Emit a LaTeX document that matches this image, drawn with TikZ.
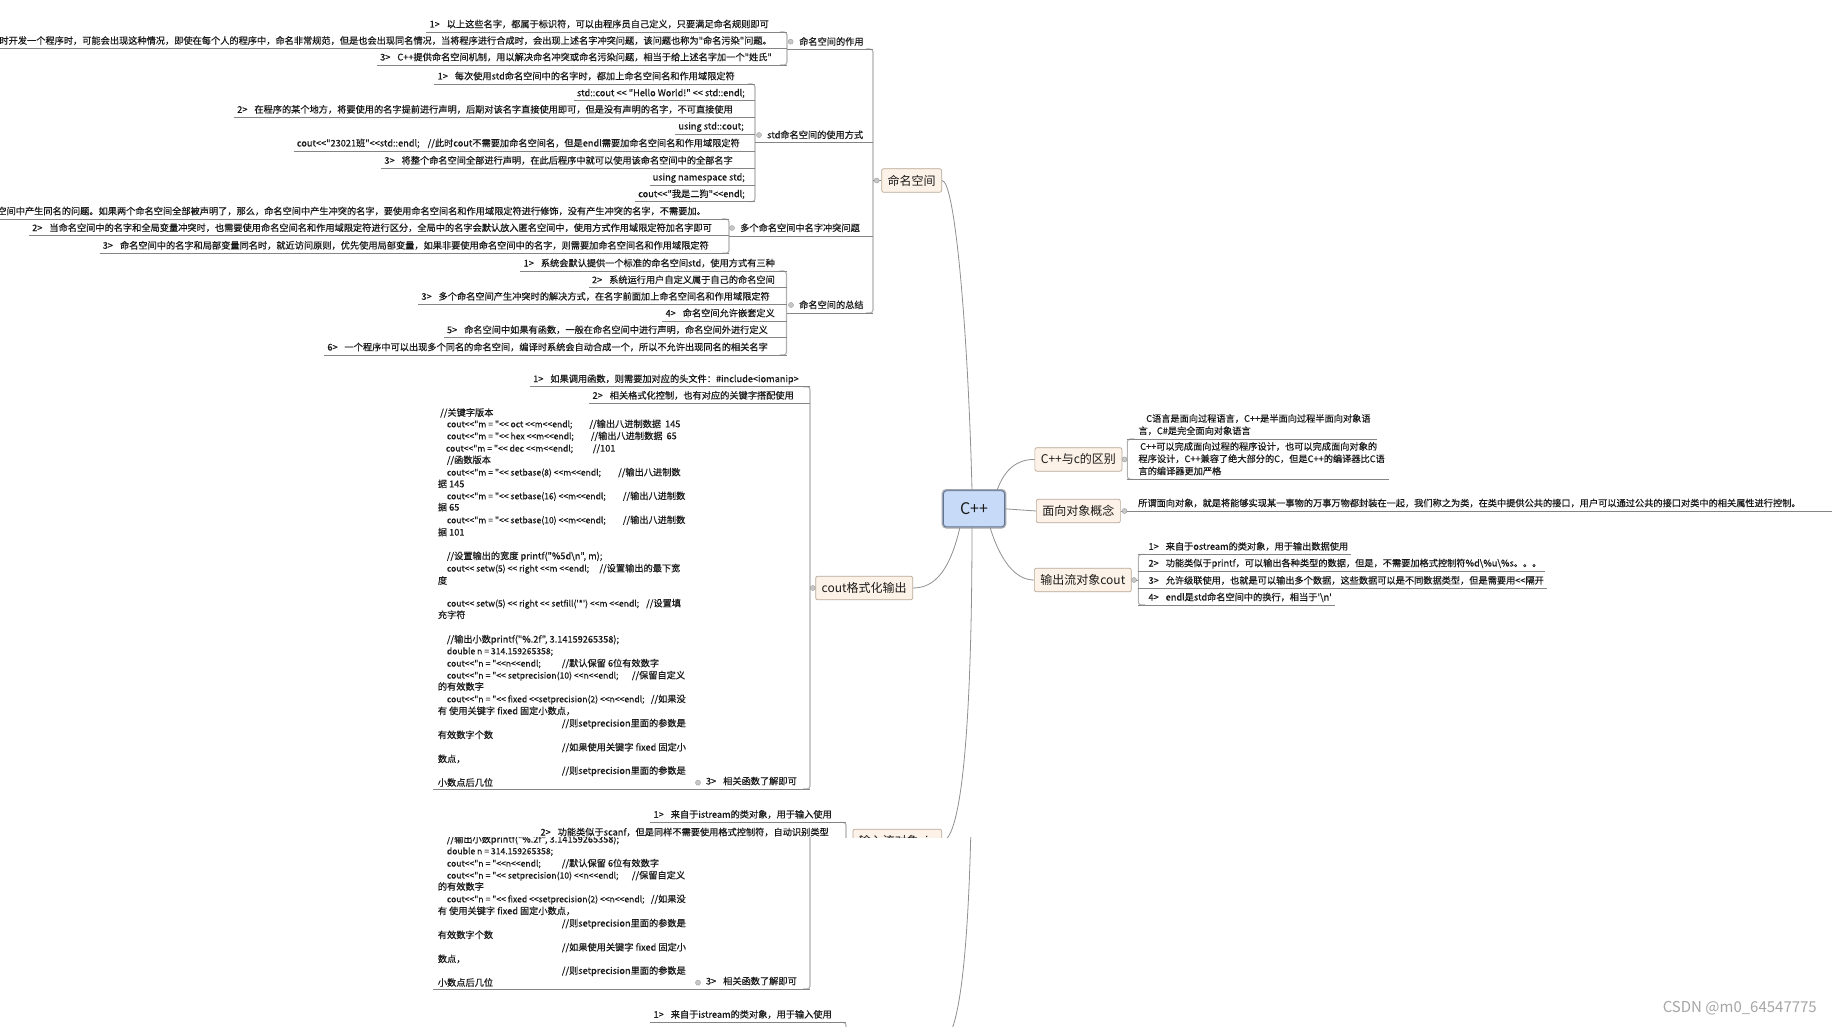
\documentclass[tikz,border=0pt]{standalone}
\usepackage{fontspec}
\newfontfamily\zh{Noto Sans CJK SC}
\newfontfamily\zhs{Noto Sans CJK SC}[FakeBold=0.5]
\usetikzlibrary{calc}
\definecolor{ulc}{HTML}{858585}
\definecolor{vlc}{HTML}{B0B0B0}
\definecolor{cvc}{HTML}{909090}
\definecolor{boxfill}{HTML}{FDF2E7}
\definecolor{boxdraw}{HTML}{B8A898}
\definecolor{cppfill}{HTML}{C7DBF8}
\definecolor{cppdraw}{HTML}{5E7497}
\definecolor{cppring}{HTML}{A3A7AD}
\definecolor{txtc}{HTML}{1A1A1A}
\definecolor{knobf}{HTML}{C8C8C8}
\definecolor{knobd}{HTML}{9A9A9A}
\definecolor{wmc}{HTML}{A6A6A6}
\newcommand\sepx{\hspace{7pt}}
\tikzset{
  txt/.style={font=\zhs\fontsize{9.2}{12.3}\selectfont, text=txtc, inner xsep=3pt, inner ysep=0pt},
  codeline/.style={font=\zhs\fontsize{9.2}{12.3}\selectfont, text=txtc, inner sep=0pt, anchor=base west},
  codelat/.style={codeline, font=\zhs\fontsize{8.6}{12.3}\selectfont},
  uline/.style={draw=ulc, line width=0.7pt},
  vline/.style={draw=vlc, line width=1.1pt, rounded corners=3pt},
  maincurve/.style={draw=cvc, line width=0.8pt},
  topic/.style={draw=boxdraw, fill=boxfill, rounded corners=2pt, line width=0.7pt,
    font=\zh\fontsize{12}{14}\selectfont, text=txtc, inner xsep=6pt, inner ysep=0pt, minimum height=23.5pt},
  cppbox/.style={fill=cppfill, draw=cppdraw, line width=0.8pt, rounded corners=3pt,
    preaction={draw=cppring, line width=3.6pt}, minimum width=61pt, minimum height=36pt, inner sep=0pt,
    font=\zh\fontsize{16}{18}\selectfont, text=txtc},
  knob/.style={circle, fill=knobf, draw=knobd, line width=0.4pt, inner sep=0pt, minimum size=5pt},
}
% left child row: [pad] name, vline x, underline y, text
\newcommand\Lrow[5][12]{%
  \node[txt, anchor=base east] (#2) at ({#3-#1+3},{#4-4.5}) {#5};
  \coordinate (#2u) at (#3,#4);
  \draw[uline] (#2.west |- #2u) -- (#2u);
}
% right child row: name, vline x, underline y, text
\newcommand\Rrow[4]{%
  \node[txt, anchor=base west] (#1) at ({#2+7},{#3-4.5}) {#4\hspace{9pt}};
  \coordinate (#1u) at (#2,#3);
  \draw[uline] (#1u) -- (#1.east |- #1u);
}
\newcommand\K[4]{\node[codeline] (#1) at (#2,{#3+3.3}) {#4};}
\newcommand\KL[4]{\node[codelat] (#1) at (#2,{#3+3.3}) {#4};}
\newcommand\Lab[5]{%
  \node[txt, anchor=base west] (#1) at ({#2-3},{#3+3.3}) {#4};
  \node[knob] (#1d) at (#5,#3) {};
}
\newcommand\LV[3]{\draw[vline] ({#1-7},#2) -- (#1,#2) -- (#1,#3) -- ({#1-7},#3);}
\newcommand\RV[3]{\draw[vline] ({#1+7},#2) -- (#1,#2) -- (#1,#3) -- ({#1+7},#3);}

% ---- parts shared by the normal view and the repeated (glitched) strip
\newcommand\sharedpart{%
\node[cppbox] (cpp) at (974,508.8) {C++};
\node[topic, anchor=east] (ci) at (942,841) {输入流对象cin};
\draw[maincurve] ([xshift=-2pt]cpp.south) .. controls (972,720) and (962,841) .. (ci.east);
% cout format: vline and last child
\LV{810}{386.7}{789}
\Lrow[13]{e3}{810}{789}{3>\sepx 相关函数了解即可}
\coordinate (kb) at (433,789);
\draw[uline] (kb) -- (e3.west |- kb);
\node[knob] (e3k) at (698,782.7) {};
\K{k17}{446.7}{639.3}{//输出小数printf("\%.2f", 3.14159265358);}
\KL{k18}{446.7}{651}{double n = 314.159265358;}
\KL{k19}{446.7}{663.3}{cout<<"n = "<<n<<endl;}
\K{k19c}{561.7}{663.3}{//默认保留 6位有效数字}
\KL{k20}{446.7}{675.3}{cout<<"n = "<< setprecision(10) <<n<<endl;}
\K{k20c}{631.7}{675.3}{//保留自定义}
\K{k21}{437.7}{686.7}{的有效数字}
\KL{k22}{446.7}{699}{cout<<"n = "<< fixed <<setprecision(2) <<n<<endl;}
\K{k22c}{650.7}{699}{//如果没}
\K{k23}{437.7}{711}{有 使用关键字 fixed 固定小数点，}
\K{k24}{561.7}{723.3}{//则setprecision里面的参数是}
\K{k25}{437.7}{735}{有效数字个数}
\K{k26}{561.7}{747.3}{//如果使用关键字 fixed 固定小}
\K{k27}{437.7}{759}{数点，}
\K{k28}{561.7}{770.7}{//则setprecision里面的参数是}
\K{k29}{437.7}{782.7}{小数点后几位}
% cin branch
\coordinate (civ) at (846,841);
\LV{846}{822.3}{900}
\draw[uline] (ci.west) -- (civ);
\node[knob] (cik) at (850,841) {};
\Lrow[14]{i1}{846}{822.3}{1>\sepx 来自于istream的类对象，用于输入使用}
\Lrow[17]{i2}{846}{840}{2>\sepx 功能类似于scanf，但是同样不需要使用格式控制符，自动识别类型}
}

\newcommand\mainpart{%
\node[topic, anchor=east] (ns) at (942,180.5) {命名空间};
\node[topic, anchor=east] (cf) at (913,588) {cout格式化输出};
\node[topic, anchor=west] (cc) at (1034.5,459.4) {C++与c的区别};
\node[topic, anchor=west] (oo) at (1036,511) {面向对象概念};
\node[topic, anchor=west] (oc) at (1034,580) {输出流对象cout};
\draw[maincurve] (ns.east) .. controls (955,180.5) and (968,330) .. ([xshift=-2pt]cpp.north);
\draw[maincurve] ([xshift=-14pt]cpp.south) .. controls (950,570) and (935,588) .. (cf.east);
\draw[maincurve] ([xshift=23pt]cpp.north) .. controls (1005,468) and (1018,459.4) .. (cc.west);
\draw[maincurve] (cpp.east) -- (oo.west);
\draw[maincurve] ([xshift=16pt]cpp.south) .. controls (1000,560) and (1015,580) .. (oc.west);
% ---------- namespace branch
\coordinate (nsv) at (873,180.5);
\LV{873}{49}{313}
\draw[uline] (ns.west) -- (nsv);
\node[knob] (nsk) at (876.7,180.5) {};
% group A
\LV{787}{32}{65}
\Lrow[18]{a1}{787}{32}{1>\sepx 以上这些名字，都属于标识符，可以由程序员自己定义，只要满足命名规则即可}
\Lrow[15]{a2}{787}{48.5}{2>\sepx 当多个程序员同时开发一个程序时，可能会出现这种情况，即使在每个人的程序中，命名非常规范，但是也会出现同名情况，当将程序进行合成时，会出现上述名字冲突问题，该问题也称为"命名污染"问题。}
\Lrow[15]{a3}{787}{65}{3>\sepx C++提供命名空间机制，用以解决命名冲突或命名污染问题，相当于给上述名字加一个"姓氏"}
\coordinate (lal) at (787,49); \coordinate (lar) at (873,49);
\draw[uline] (lal) -- (lar);
\Lab{la}{799}{41.7}{命名空间的作用}{790.7}
% group B
\LV{755}{84}{201.7}
\Lrow[20]{b1}{755}{84}{1>\sepx 每次使用std命名空间中的名字时，都加上命名空间名和作用域限定符}
\Lrow[10]{b2}{755}{100.7}{std::cout << "Hello World!" << std::endl;}
\Lrow[22]{b3}{755}{117.3}{2>\sepx 在程序的某个地方，将要使用的名字提前进行声明，后期对该名字直接使用即可，但是没有声明的名字，不可直接使用}
\Lrow[11]{b4}{755}{134}{using std::cout;}
\Lrow[15]{b5}{755}{151}{cout<<"23021班"<<std::endl;\hspace{8pt}//此时cout不需要加命名空间名，但是endl需要加命名空间名和作用域限定符}
\Lrow[22]{b6}{755}{168.3}{3>\sepx 将整个命名空间全部进行声明，在此后程序中就可以使用该命名空间中的全部名字}
\Lrow[10]{b7}{755}{185}{using namespace std;}
\Lrow[10]{b8}{755}{201.7}{cout<<"我是二狗"<<endl;}
\coordinate (lbl) at (755,142.7); \coordinate (lbr) at (873,142.7);
\draw[uline] (lbl) -- (lbr);
\Lab{lb}{767}{135}{std命名空间的使用方式}{759}
% group C
\LV{729}{219}{253.3}
\Lrow[23]{c1}{729}{219}{1>\sepx 在声明多个命名空间时，可能会出现多个命名空间中产生同名的问题。如果两个命名空间全部被声明了，那么，命名空间中产生冲突的名字，要使用命名空间名和作用域限定符进行修饰，没有产生冲突的名字，不需要加。}
\Lrow[17]{c2}{729}{235.7}{2>\sepx 当命名空间中的名字和全局变量冲突时，也需要使用命名空间名和作用域限定符进行区分，全局中的名字会默认放入匿名空间中，使用方式作用域限定符加名字即可}
\Lrow[20]{c3}{729}{253.3}{3>\sepx 命名空间中的名字和局部变量同名时，就近访问原则，优先使用局部变量，如果非要使用命名空间中的名字，则需要加命名空间名和作用域限定符}
\coordinate (lcl) at (729,236); \coordinate (lcr) at (873,236);
\draw[uline] (lcl) -- (lcr);
\Lab{lc}{740}{228}{多个命名空间中名字冲突问题}{732}
% group D
\LV{786.5}{271}{355}
\Lrow[11.5]{d1}{786.5}{271}{1>\sepx 系统会默认提供一个标准的命名空间std，使用方式有三种}
\Lrow[11.5]{d2}{786.5}{287.7}{2>\sepx 系统运行用户自定义属于自己的命名空间}
\Lrow[16.5]{d3}{786.5}{304.3}{3>\sepx 多个命名空间产生冲突时的解决方式，在名字前面加上命名空间名和作用域限定符}
\Lrow[11.5]{d4}{786.5}{321}{4>\sepx 命名空间允许嵌套定义}
\Lrow[18.5]{d5}{786.5}{337.7}{5>\sepx 命名空间中如果有函数，一般在命名空间中进行声明，命名空间外进行定义}
\Lrow[18.5]{d6}{786.5}{355}{6>\sepx 一个程序中可以出现多个同名的命名空间，编译时系统会自动合成一个，所以不允许出现同名的相关名字}
\coordinate (ldl) at (786.5,313); \coordinate (ldr) at (873,313);
\draw[uline] (ldl) -- (ldr);
\Lab{ld}{799}{305}{命名空间的总结}{791}
% ---------- cout format branch
\coordinate (cfv) at (810,588);
\draw[uline] (cf.west) -- (cfv);
\node[knob] (cfk) at (812.7,588) {};
\Lrow[11]{e1}{810}{386.7}{1>\sepx 如果调用函数，则需要加对应的头文件：\#include<iomanip>}
\Lrow[16]{e2}{810}{403.3}{2>\sepx 相关格式化控制，也有对应的关键字搭配使用}
\K{k1}{440}{412.7}{//关键字版本}
\KL{k2}{446.7}{424}{cout<<"m = "<< oct <<m<<endl;}
\K{k2c}{589.3}{424}{//输出八进制数据\hspace{4pt}145}
\KL{k3}{446.7}{436}{cout<<"m = "<< hex <<m<<endl;}
\K{k3c}{590.7}{436}{//输出八进制数据\hspace{4pt}65}
\KL{k4}{445.7}{448.3}{cout<<"m = "<< dec <<m<<endl;}
\K{k4c}{592.7}{448.3}{//101}
\K{k5}{446.7}{460}{//函数版本}
\KL{k6}{446.7}{472.3}{cout<<"m = "<< setbase(8) <<m<<endl;}
\K{k6c}{618}{472.3}{//输出八进制数}
\K{k7}{437.7}{484}{据 145}
\KL{k8}{446.7}{496}{cout<<"m = "<< setbase(16) <<m<<endl;}
\K{k8c}{622.7}{496}{//输出八进制数}
\K{k9}{437.7}{507.3}{据 65}
\KL{k10}{446.7}{520}{cout<<"m = "<< setbase(10) <<m<<endl;}
\K{k10c}{622.7}{520}{//输出八进制数}
\K{k11}{437.7}{532.3}{据 101}
\K{k12}{446.7}{556}{//设置输出的宽度 printf("\%5d\textbackslash n", m);}
\KL{k13}{446.7}{568.3}{cout<< setw(5) << right <<m <<endl;}
\K{k13c}{599.3}{568.3}{//设置输出的最下宽}
\K{k14}{437.7}{580.7}{度}
\KL{k15}{446.7}{603.3}{cout<< setw(5) << right << setfill('*') <<m <<endl;}
\K{k15c}{646}{603.3}{//设置填}
\K{k16}{437.7}{615}{充字符}
% ---------- C++ vs C
\coordinate (ccv) at (1127.3,459.4);
\RV{1127.3}{439}{479.3}
\draw[uline] (cc.east) -- (ccv);
\node[knob] (cck) at (1124.5,459.4) {};
\node[txt, align=left, anchor=south west] (f1) at (1135.3,438.1)
  {\hspace{7.7pt}C语言是面向过程语言，C++是半面向过程半面向对象语\\言，C\#是完全面向对象语言\strut};
\coordinate (f1s) at (1127.3,439); \coordinate (f1e) at (1377,439);
\draw[uline] (f1s) -- (f1e);
\node[txt, align=left, anchor=south west] (f2) at (1135.3,478.4)
  {\hspace{1.7pt}C++可以完成面向过程的程序设计，也可以完成面向对象的\\程序设计，C++兼容了绝大部分的C，但是C++的编译器比C语\\言的编译器更加严格\strut};
\coordinate (f2s) at (1127.3,479.3); \coordinate (f2e) at (1389,479.3);
\draw[uline] (f2s) -- (f2e);
% ---------- OOP
\coordinate (g1e) at (1832,511);
\draw[uline] (oo.east) -- (g1e);
\node[knob] (ook) at (1124.5,511) {};
\node[txt, anchor=base west] (g1) at (1135,506.5) {所谓面向对象，就是将能够实现某一事物的万事万物都封装在一起，我们称之为类，在类中提供公共的接口，用户可以通过公共的接口对类中的相关属性进行控制。};
% ---------- cout object
\coordinate (ocv) at (1138.3,580);
\RV{1138.3}{554.3}{605}
\draw[uline] (oc.east) -- (ocv);
\node[knob] (ock) at (1134,580) {};
\Rrow{h1}{1138.3}{554.3}{1>\sepx 来自于ostream的类对象，用于输出数据使用}
\Rrow{h2}{1138.3}{571}{2>\sepx 功能类似于printf，可以输出各种类型的数据，但是，不需要加格式控制符\%d\textbackslash\%u\textbackslash\%s。。。}
\Rrow{h3}{1138.3}{588.3}{3>\sepx 允许级联使用，也就是可以输出多个数据，这些数据可以是不同数据类型，但是需要用<<隔开}
\Rrow{h4}{1138.3}{605}{4>\sepx endl是std命名空间中的换行，相当于'\textbackslash n'}
}

\begin{document}
\begin{tikzpicture}[x=1pt,y=-1pt]
\fill[white] (0,0) rectangle (1832,1027);
\useasboundingbox (0,0) rectangle (1832,1027);
\begin{scope}
  \clip (0,0) rectangle (1832,837);
  \sharedpart
  \mainpart
\end{scope}
\begin{scope}
  \clip (0,837) rectangle (1832,1027);
  \begin{scope}[shift={(0,200)}]
    \sharedpart
  \end{scope}
\end{scope}
\node[font=\zh\fontsize{15}{17}\selectfont, text=wmc, anchor=east, inner sep=0pt] (wm) at (1817,1008) {CSDN @m0\_64547775};
\end{tikzpicture}
\end{document}
